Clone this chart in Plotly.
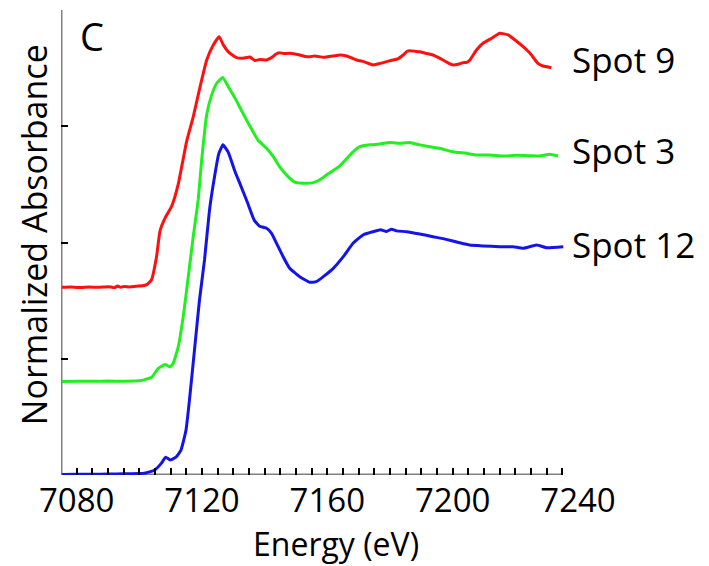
import plotly.graph_objects as go

# Fe K-edge XANES spectra, vertically offset for clarity
spot9_energy = [7075.3, 7078, 7081, 7084, 7087, 7090, 7092, 7093, 7094, 7095, 7097, 7099,
                7101, 7102.5, 7103.9, 7105.5, 7106.6, 7108.2, 7110.3, 7112.4, 7115.1, 7117.2,
                7119.3, 7121.5, 7123.6, 7125.5, 7126.8, 7128.4, 7131.0, 7133.1, 7135.3, 7136.9,
                7138.5, 7140.6, 7142.7, 7143.5, 7144.8, 7146, 7148.0, 7150, 7151.2, 7153,
                7154.4, 7156, 7158.7, 7160.5, 7161.9, 7164, 7166.1, 7168, 7169.3, 7171,
                7172.5, 7174.6, 7176, 7177.8, 7179.5, 7181.0, 7182.5, 7184.2, 7185.5, 7186.3,
                7188, 7189.5, 7191, 7193.7, 7195.5, 7196.9, 7198.5, 7200.1, 7202, 7203.3,
                7204.5, 7205.5, 7207.6, 7209.7, 7212.4, 7215.0, 7217.7, 7219.9, 7222.5, 7224.7,
                7227.2, 7228.8, 7231.5]
spot9_abs = [1.615, 1.617, 1.612, 1.618, 1.614, 1.620, 1.612, 1.625, 1.615, 1.622, 1.618, 1.624,
             1.628, 1.640, 1.680, 1.880, 2.100, 2.210, 2.310, 2.500, 2.870, 3.080,
             3.330, 3.570, 3.700, 3.770, 3.700, 3.640, 3.590, 3.585, 3.595, 3.565,
             3.575, 3.570, 3.600, 3.620, 3.633, 3.625, 3.628, 3.620, 3.613, 3.600,
             3.598, 3.605, 3.593, 3.600, 3.604, 3.612, 3.604, 3.585, 3.570, 3.560,
             3.547, 3.527, 3.535, 3.547, 3.560, 3.570, 3.580, 3.613, 3.645, 3.650,
             3.645, 3.641, 3.630, 3.613, 3.590, 3.570, 3.545, 3.527, 3.535, 3.547,
             3.550, 3.570, 3.656, 3.714, 3.757, 3.800, 3.785, 3.742, 3.684, 3.628,
             3.541, 3.518, 3.504]

spot3_energy = [7075.3, 7080, 7085, 7090, 7095, 7100, 7103.9, 7106, 7108.2, 7109.8, 7110.8,
                7112.4, 7114.0, 7115.6, 7117.2, 7118.8, 7119.9, 7121.5, 7123.1, 7124.7, 7126.6,
                7128.4, 7131.0, 7133.1, 7135.3, 7137.9, 7140.6, 7142.7, 7144.8, 7147.0, 7149.6,
                7152.3, 7155.5, 7157.6, 7159.7, 7161.9, 7164.0, 7166.1, 7168.2, 7170.4, 7173.6,
                7176.7, 7179.9, 7183.1, 7186.3, 7189.5, 7192.7, 7195.9, 7200.1, 7204.4, 7207.6,
                7211.8, 7216.1, 7220.4, 7224.6, 7227.8, 7231.0, 7233.6]
spot3_abs = [0.805, 0.807, 0.806, 0.808, 0.807, 0.810, 0.840, 0.915, 0.950, 0.930, 0.960,
             1.100, 1.360, 1.700, 2.050, 2.370, 2.710, 3.100, 3.270, 3.370, 3.420,
             3.340, 3.220, 3.110, 3.000, 2.880, 2.810, 2.740, 2.650, 2.580, 2.520,
             2.510, 2.515, 2.540, 2.580, 2.620, 2.660, 2.720, 2.780, 2.824, 2.840,
             2.847, 2.860, 2.853, 2.860, 2.840, 2.824, 2.810, 2.780, 2.767, 2.753,
             2.753, 2.744, 2.750, 2.747, 2.744, 2.760, 2.744]

spot12_energy = [7075.3, 7080, 7085, 7090, 7095, 7100, 7102, 7104.9, 7107.0, 7108.4, 7109.8,
                 7111.7, 7113.3, 7114.9, 7116.0, 7117.6, 7119.2, 7120.8, 7122.4, 7124.0, 7125.4,
                 7126.7, 7128.4, 7130.4, 7132.5, 7134.6, 7136.7, 7138.4, 7140.6, 7142.2, 7143.8,
                 7145.9, 7148.0, 7151.2, 7154.4, 7156.5, 7158.7, 7161.9, 7165.1, 7168.2, 7171.4,
                 7174.6, 7177.0, 7178.9, 7180.5, 7182.1, 7185.3, 7189.5, 7193.7, 7197.9, 7202.2,
                 7205.4, 7209.7, 7215.0, 7219.3, 7222.5, 7226.8, 7230.0, 7235.3]
spot12_abs = [0.005, 0.006, 0.006, 0.008, 0.010, 0.012, 0.018, 0.043, 0.100, 0.153, 0.130,
              0.153, 0.215, 0.387, 0.645, 1.075, 1.505, 1.850, 2.280, 2.566, 2.767,
              2.840, 2.775, 2.620, 2.480, 2.337, 2.190, 2.140, 2.122, 2.079, 1.993,
              1.878, 1.778, 1.706, 1.658, 1.663, 1.706, 1.778, 1.878, 1.993, 2.065,
              2.093, 2.110, 2.095, 2.115, 2.100, 2.093, 2.073, 2.050, 2.027, 1.998,
              1.978, 1.970, 1.964, 1.964, 1.950, 1.978, 1.955, 1.964]

series_names = ["Spot 9", "Spot 3", "Spot 12"]
series_colors = ["#ff1010", "#22ee22", "#1414e6"]
label_levels = [3.577, 2.791, 1.987]

major_ticks = [7080, 7120, 7160, 7200, 7240]
minor_ticks = list(range(7080, 7240, 5))

x_min, x_max, axis_end = 7075, 7240, 7235
y_ticks = [0, 1, 2, 3, 4]

font_name = "Open Sans"

fig = go.Figure()
for name, color, xs, ys in zip(series_names, series_colors,
                                [spot9_energy, spot3_energy, spot12_energy],
                                [spot9_abs, spot3_abs, spot12_abs]):
    fig.add_trace(go.Scatter(x=xs, y=ys, mode="lines", name=name,
                             line=dict(color=color, width=3, shape="spline", smoothing=0.4)))

# Axis lines drawn as shapes so the x-axis can stop short of the last label
fig.add_shape(type="line", xref="x", yref="y", x0=x_min, x1=axis_end, y0=0, y1=0,
              line=dict(color="#808080", width=3), layer="below")
fig.add_shape(type="line", xref="x", yref="y", x0=x_min, x1=x_min, y0=0, y1=4,
              line=dict(color="#808080", width=3), layer="below")

for name, level in zip(series_names, label_levels):
    fig.add_annotation(x=7237.5, y=level, xref="x", yref="y", text=name, showarrow=False,
                       xanchor="left", yanchor="middle",
                       font=dict(family=font_name, size=35, color="black"))

fig.add_annotation(x=0.06, y=0.945, xref="paper", yref="paper", text="C", showarrow=False,
                   xanchor="center", yanchor="middle",
                   font=dict(family=font_name, size=38, color="black"))
fig.add_annotation(x=-0.052, y=0.516, xref="paper", yref="paper", text="Normalized Absorbance",
                   showarrow=False, textangle=-90, xanchor="center", yanchor="middle",
                   font=dict(family=font_name, size=34, color="black"))
fig.add_annotation(x=0.532, y=-0.1957, xref="paper", yref="paper", text="Energy (eV)",
                   showarrow=False, xanchor="center", yanchor="bottom", borderpad=0,
                   font=dict(family=font_name, size=32, color="black"))

fig.update_layout(
    width=709, height=566,
    margin=dict(l=61, r=131, t=10, b=91),
    paper_bgcolor="white", plot_bgcolor="white",
    showlegend=False,
    xaxis=dict(range=[x_min, x_max], showgrid=False, zeroline=False, showline=False,
               tickmode="array", tickvals=major_ticks, ticktext=[str(t) for t in major_ticks],
               ticks="", ticklabelstandoff=3,
               tickfont=dict(family=font_name, size=33, color="black"),
               minor=dict(tickmode="array", tickvals=minor_ticks, ticks="inside",
                          ticklen=7, tickwidth=2, tickcolor="black", showgrid=False)),
    yaxis=dict(range=[0, 4], showgrid=False, zeroline=False, showline=False,
               tickmode="array", tickvals=y_ticks, ticks="inside", ticklen=7,
               tickwidth=2, tickcolor="black", showticklabels=False),
)

fig.write_html("out.html")
